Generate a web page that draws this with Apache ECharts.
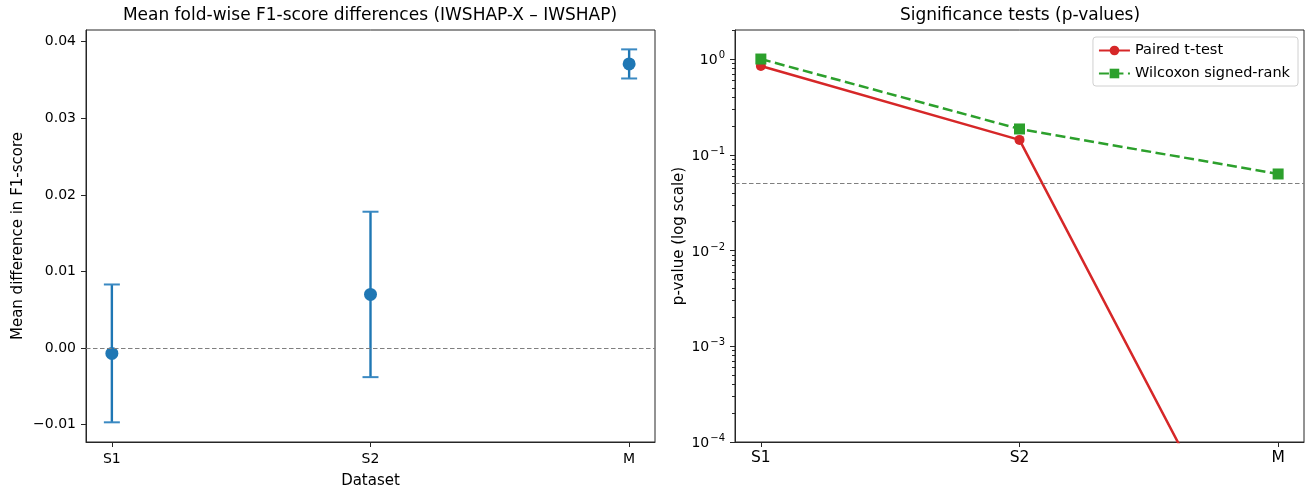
<!DOCTYPE html>
<html>
<head>
<meta charset="utf-8">
<script src="https://cdn.jsdelivr.net/npm/echarts@6/dist/echarts.min.js"></script>
<style>
html,body{margin:0;padding:0;background:#fff;}
#chart{width:1311px;height:488px;}
</style>
</head>
<body>
<div id="chart"></div>
<script>
const categories = ['S1', 'S2', 'M'];
const meanDiff = [-0.0007, 0.0070, 0.0371];
const errHalf = [0.0090, 0.0108, 0.0019];
const pTtest = [0.845, 0.143, 1.0e-6];
const pWilcoxon = [1.0, 0.186, 0.063];
const leftTicks = [-0.01, 0.00, 0.01, 0.02, 0.03, 0.04];
const logTicks = [1e-4, 1e-3, 1e-2, 1e-1, 1];
const logMinorTicks = [];
[1e-4, 1e-3, 1e-2, 1e-1, 1].forEach(function (d) {
  for (let m = 2; m <= 9; m++) { const v = m * d; if (v <= 2.01) logMinorTicks.push(v); }
});
const zeroRef = 0;
const alphaRef = 0.05;
const catPos = categories.map(function (c, i) { return i; });

const FONT = 'DejaVu Sans';
const chart = echarts.init(document.getElementById('chart'));

function catFmt(v) { const i = Math.round(v); return categories[i] || ''; }
function leftFmt(v) { return Number(v).toFixed(2).replace('-', '\u2212'); }
function logFmt(v) {
  const e = Math.round(Math.log10(v));
  return '{a|10}{b|' + (e < 0 ? '\u2212' + (-e) : String(e)) + '}';
}
const AX = '#262626';

const option = {
  animation: false,
  backgroundColor: '#fff',
  textStyle: { fontFamily: FONT },
  title: [
    { text: 'Mean fold-wise F1-score differences (IWSHAP-X \u2013 IWSHAP)', left: 370, top: 7, textAlign: 'center', padding: 0,
      textStyle: { fontFamily: FONT, fontSize: 17, fontWeight: 'normal', color: '#000' } },
    { text: 'Significance tests (p-values)', left: 1020, top: 7, textAlign: 'center', padding: 0,
      textStyle: { fontFamily: FONT, fontSize: 17, fontWeight: 'normal', color: '#000' } }
  ],
  legend: {
    right: 13, top: 37,
    orient: 'vertical',
    backgroundColor: '#fff',
    borderColor: '#d0d0d0', borderWidth: 1, borderRadius: 3,
    padding: [6, 8, 5, 5],
    itemGap: 8, itemWidth: 31, itemHeight: 12,
    textStyle: { fontFamily: FONT, fontSize: 14.5, color: '#000' },
    data: ['Paired t-test', 'Wilcoxon signed-rank']
  },
  grid: [
    { left: 86, top: 30, width: 569, height: 412, show: true, borderColor: AX, borderWidth: 1, backgroundColor: 'transparent', containLabel: false, outerBoundsMode: 'none' },
    { left: 735, top: 30, width: 569, height: 412, show: true, borderColor: AX, borderWidth: 1, backgroundColor: 'transparent', containLabel: false, outerBoundsMode: 'none' }
  ],
  xAxis: [
    { type: 'value', gridIndex: 0, min: -0.1, max: 2.1,
      name: 'Dataset', nameLocation: 'middle', nameGap: 32,
      nameTextStyle: { fontFamily: FONT, fontSize: 15, color: '#000' },
      axisLine: { show: true, onZero: false, lineStyle: { color: AX } },
      axisTick: { show: true, length: 5, customValues: catPos, lineStyle: { color: AX } },
      axisLabel: { customValues: catPos, formatter: catFmt, margin: 10, fontFamily: FONT, fontSize: 14, color: '#000' },
      splitLine: { show: false } },
    { type: 'value', gridIndex: 1, min: -0.1, max: 2.1,
      axisLine: { show: true, onZero: false, lineStyle: { color: AX } },
      axisTick: { show: true, length: 5, customValues: catPos, lineStyle: { color: AX } },
      axisLabel: { customValues: catPos, formatter: catFmt, margin: 8, fontFamily: FONT, fontSize: 15.5, color: '#000' },
      splitLine: { show: false } }
  ],
  yAxis: [
    { type: 'value', gridIndex: 0, min: -0.01227, max: 0.04153,
      name: 'Mean difference in F1-score', nameLocation: 'middle', nameGap: 60,
      nameTextStyle: { fontFamily: FONT, fontSize: 15, color: '#000' },
      axisLine: { show: true, onZero: false, lineStyle: { color: AX } },
      axisTick: { show: true, length: 5, customValues: leftTicks, lineStyle: { color: AX } },
      axisLabel: { customValues: leftTicks, formatter: leftFmt, margin: 10, fontFamily: FONT, fontSize: 14, color: '#000' },
      splitLine: { show: false } },
    { type: 'log', gridIndex: 1, logBase: 10, min: 1e-4, max: 2.01,
      name: 'p-value (log scale)', nameLocation: 'middle', nameGap: 48,
      nameTextStyle: { fontFamily: FONT, fontSize: 15, color: '#000' },
      axisLine: { show: true, onZero: false, lineStyle: { color: AX } },
      axisTick: { show: true, length: 5, customValues: logTicks, lineStyle: { color: AX } },
      axisLabel: { customValues: logTicks, formatter: logFmt, margin: 10, color: '#000',
        rich: { a: { fontFamily: FONT, fontSize: 14, color: '#000', verticalAlign: 'bottom' },
                b: { fontFamily: FONT, fontSize: 10, color: '#000', verticalAlign: 'bottom', padding: [0, 0, 7, 1] } } },
      splitLine: { show: false } },
    { type: 'log', gridIndex: 1, logBase: 10, min: 1e-4, max: 2.01, position: 'left', offset: 0,
      axisLine: { show: false, onZero: false },
      axisTick: { show: true, length: 3, customValues: logMinorTicks, lineStyle: { color: AX } },
      axisLabel: { show: false },
      splitLine: { show: false } }
  ],
  series: [
    { type: 'custom', name: 'err', xAxisIndex: 0, yAxisIndex: 0,
      data: catPos.map(function (i) { return [i, meanDiff[i] - errHalf[i], meanDiff[i] + errHalf[i]]; }),
      encode: { x: 0, y: [1, 2] },
      renderItem: function (params, api) {
        const x = api.value(0);
        const lo = api.coord([x, api.value(1)]);
        const hi = api.coord([x, api.value(2)]);
        const cw = 8;
        const st = { stroke: '#1f77b4', lineWidth: 2.4 };
        const cs = { stroke: '#3a89c2', lineWidth: 2 };
        return { type: 'group', children: [
          { type: 'line', shape: { x1: lo[0], y1: lo[1], x2: hi[0], y2: hi[1] }, style: st },
          { type: 'line', shape: { x1: lo[0] - cw, y1: lo[1], x2: lo[0] + cw, y2: lo[1] }, style: cs },
          { type: 'line', shape: { x1: hi[0] - cw, y1: hi[1], x2: hi[0] + cw, y2: hi[1] }, style: cs }
        ] };
      },
      z: 2, silent: true },
    { type: 'scatter', name: 'mean', xAxisIndex: 0, yAxisIndex: 0,
      data: catPos.map(function (i) { return [i, meanDiff[i]]; }),
      symbol: 'circle', symbolSize: 13, itemStyle: { color: '#1f77b4', opacity: 1 }, z: 3,
      markLine: { silent: true, symbol: 'none', label: { show: false },
        lineStyle: { color: '#7f7f7f', type: [4.5, 2.5], width: 1.1 },
        data: [{ yAxis: zeroRef }] } },
    { type: 'line', name: 'Paired t-test', xAxisIndex: 1, yAxisIndex: 1,
      data: catPos.map(function (i) { return [i, pTtest[i]]; }),
      symbol: 'circle', symbolSize: 10, showAllSymbol: true,
      lineStyle: { color: '#d62728', width: 2.5 }, itemStyle: { color: '#d62728' }, clip: true, z: 3,
      markLine: { silent: true, symbol: 'none', label: { show: false },
        lineStyle: { color: '#7f7f7f', type: [4.5, 2.5], width: 1.1 },
        data: [{ yAxis: alphaRef }] } },
    { type: 'line', name: 'Wilcoxon signed-rank', xAxisIndex: 1, yAxisIndex: 1,
      data: catPos.map(function (i) { return [i, pWilcoxon[i]]; }),
      symbol: 'rect', symbolSize: 11, showAllSymbol: true,
      lineStyle: { color: '#2ca02c', width: 2.5, type: [10, 4.5] }, itemStyle: { color: '#2ca02c' }, clip: true, z: 4 }
  ]
};
chart.setOption(option);
</script>
</body>
</html>
